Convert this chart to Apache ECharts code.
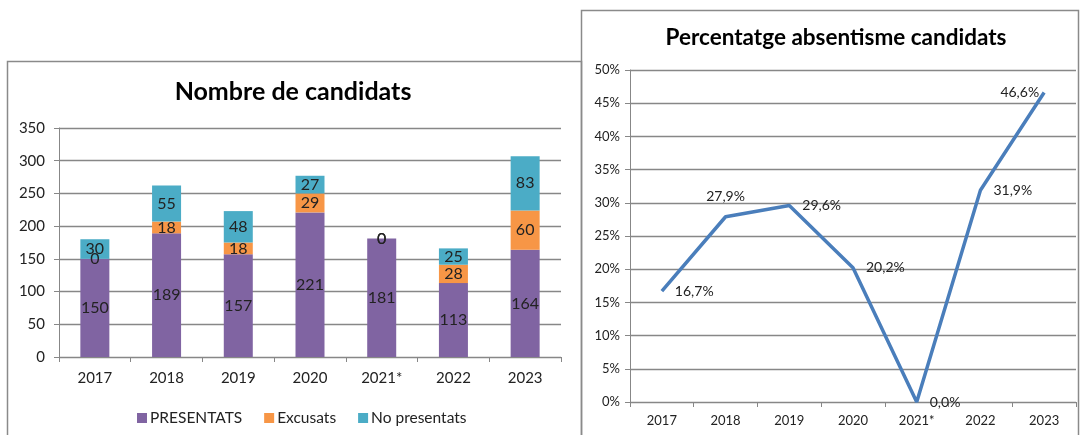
<!DOCTYPE html>
<html>
<head>
<meta charset="utf-8">
<style>
  html, body { margin: 0; padding: 0; background: #fff; }
  #chart { width: 1080px; height: 435px; }
</style>
<script src="https://cdn.jsdelivr.net/npm/echarts@6/dist/echarts.min.js"></script>
</head>
<body>
<div id="chart"></div>
<script>
// Years shown on both charts
const years = ['2017', '2018', '2019', '2020', '2021*', '2022', '2023'];

// Candidate counts per year
const presentats = [150, 189, 157, 221, 181, 113, 164];
const excusats = [0, 18, 18, 29, 0, 28, 60];
const noPresentats = [30, 55, 48, 27, 0, 25, 83];

// Absenteeism percentage per year
const absentisme = [16.7, 27.9, 29.6, 20.2, 0.0, 31.9, 46.6];

// Where each percentage label sits relative to its point
const labelPlacement = ['right', 'top', 'right', 'right', 'right', 'right', 'left'];

const FONT = 'Lato, "Noto Sans", sans-serif';
const GRID_COLOR = '#878787';
const TEXT_COLOR = '#222';

const chart = echarts.init(document.getElementById('chart'), null, { renderer: 'canvas' });

const fmtPct = v => v.toFixed(1).replace('.', ',') + '%';

const barLabel = {
  show: true,
  position: 'inside',
  color: TEXT_COLOR,
  fontFamily: FONT,
  fontSize: 16
};

const lineData = absentisme.map((v, i) => {
  const pos = labelPlacement[i];
  const label = { show: true, position: pos, distance: pos === 'left' ? 4 : 12 };
  if (pos === 'top') { label.offset = [18, -6]; }
  return { value: v, label };
});

const option = {
  backgroundColor: '#fff',
  animation: false,
  graphic: [
    {
      type: 'rect',
      shape: { x: 7.5, y: 61.5, width: 574, height: 400 },
      style: { fill: 'none', stroke: '#8a8a8a', lineWidth: 1.5 },
      silent: true
    },
    {
      type: 'rect',
      shape: { x: 581.5, y: 10.5, width: 497, height: 450 },
      style: { fill: 'none', stroke: '#8a8a8a', lineWidth: 1.5 },
      silent: true
    },
    {
      type: 'text',
      x: 293, y: 92,
      style: {
        text: 'Nombre de candidats',
        fill: '#000',
        font: 'bold 25px ' + FONT,
        textAlign: 'center',
        textVerticalAlign: 'middle'
      }
    },
    {
      type: 'text',
      x: 836, y: 38,
      style: {
        text: 'Percentatge absentisme candidats',
        fill: '#000',
        font: 'bold 22.5px ' + FONT,
        textAlign: 'center',
        textVerticalAlign: 'middle'
      }
    }
  ],
  legend: {
    data: ['PRESENTATS', 'Excusats', 'No presentats'],
    left: 132,
    top: 405,
    itemWidth: 10,
    itemHeight: 10,
    itemGap: 22,
    icon: 'rect',
    textStyle: { fontFamily: FONT, fontSize: 15.5, color: TEXT_COLOR, padding: [0, 0, 0, -2] }
  },
  grid: [
    { left: 59, right: 519, top: 128, bottom: 78 },
    { left: 630, right: 4, top: 70, bottom: 33 }
  ],
  xAxis: [
    {
      type: 'category',
      gridIndex: 0,
      data: years,
      axisLine: { lineStyle: { color: GRID_COLOR, width: 1 } },
      axisTick: { show: true, length: 5, lineStyle: { color: GRID_COLOR } },
      axisLabel: { color: TEXT_COLOR, fontFamily: FONT, fontSize: 15, margin: 14 }
    },
    {
      type: 'category',
      gridIndex: 1,
      data: years,
      axisLine: { lineStyle: { color: GRID_COLOR, width: 1 } },
      axisTick: { show: true, length: 5, lineStyle: { color: GRID_COLOR } },
      axisLabel: { color: TEXT_COLOR, fontFamily: FONT, fontSize: 13, margin: 12 }
    }
  ],
  yAxis: [
    {
      type: 'value',
      gridIndex: 0,
      min: 0, max: 350, interval: 50,
      axisLine: { show: true, lineStyle: { color: GRID_COLOR, width: 1 } },
      axisTick: { show: true, length: 5, lineStyle: { color: GRID_COLOR } },
      splitLine: { lineStyle: { color: GRID_COLOR, width: 1.3 } },
      axisLabel: { color: TEXT_COLOR, fontFamily: FONT, fontSize: 15, margin: 14 }
    },
    {
      type: 'value',
      gridIndex: 1,
      min: 0, max: 50, interval: 5,
      axisLine: { show: true, lineStyle: { color: GRID_COLOR, width: 1 } },
      axisTick: { show: true, length: 5, lineStyle: { color: GRID_COLOR } },
      splitLine: { lineStyle: { color: GRID_COLOR, width: 1.3 } },
      axisLabel: { color: TEXT_COLOR, fontFamily: FONT, fontSize: 13, margin: 10, formatter: '{value}%' }
    }
  ],
  series: [
    {
      name: 'PRESENTATS',
      type: 'bar',
      stack: 'total',
      xAxisIndex: 0, yAxisIndex: 0,
      barWidth: 29,
      itemStyle: { color: '#8064a2' },
      label: barLabel,
      data: presentats
    },
    {
      name: 'Excusats',
      type: 'bar',
      stack: 'total',
      xAxisIndex: 0, yAxisIndex: 0,
      barWidth: 29,
      itemStyle: { color: '#f79646' },
      label: barLabel,
      data: excusats
    },
    {
      name: 'No presentats',
      type: 'bar',
      stack: 'total',
      xAxisIndex: 0, yAxisIndex: 0,
      barWidth: 29,
      itemStyle: { color: '#4bacc6' },
      label: barLabel,
      data: noPresentats
    },
    {
      name: 'Absentisme',
      type: 'line',
      xAxisIndex: 1, yAxisIndex: 1,
      showSymbol: true,
      showAllSymbol: true,
      symbol: 'circle',
      symbolSize: 2,
      itemStyle: { color: 'rgba(74,126,187,0)', borderWidth: 0 },
      lineStyle: { color: '#4a7ebb', width: 3.5 },
      label: {
        show: true,
        color: TEXT_COLOR,
        opacity: 1,
        fontFamily: FONT,
        fontSize: 14,
        formatter: p => fmtPct(p.value)
      },
      labelLayout: { hideOverlap: false },
      data: lineData
    }
  ]
};

chart.setOption(option);
</script>
</body>
</html>
